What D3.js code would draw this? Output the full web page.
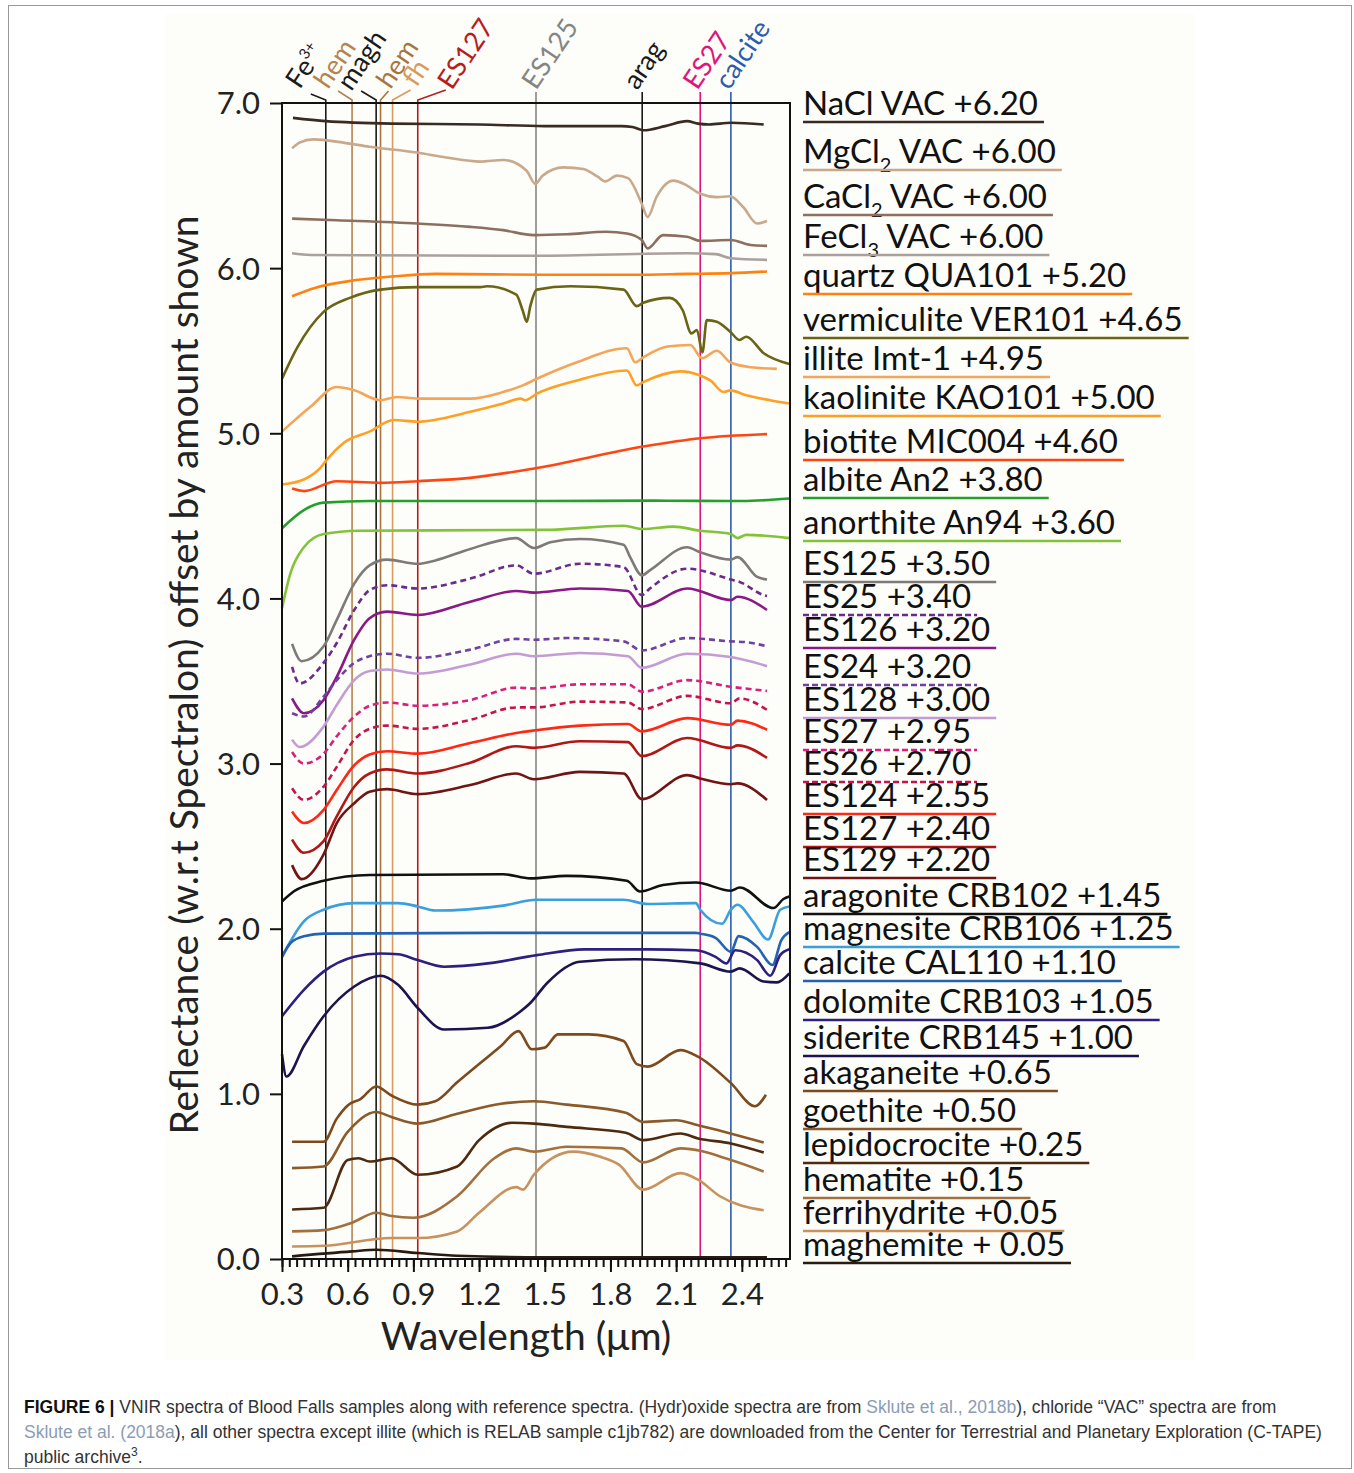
<!DOCTYPE html>
<meta charset="utf-8">
<script src="https://d3js.org/d3.v7.min.js"></script>
<style>
  body { margin: 0; background: #fff; }
</style>
<div id="my_dataviz"></div>
<script>

// ---- spectra: [wavelength (um), reflectance + offset] ----
var naclVAC = [[0.35,6.91],[0.5,6.89],[0.8,6.875],[1.2,6.87],[1.5,6.86],[1.85,6.86],[1.9,6.855],[1.95,6.835],[2.05,6.86],[2.15,6.89],[2.2,6.875],[2.25,6.87],[2.35,6.88],[2.5,6.87]];
var mgcl2VAC = [[0.346,6.725],[0.38,6.76],[0.443,6.78],[0.58,6.76],[0.7,6.735],[0.916,6.70],[1.05,6.67],[1.205,6.645],[1.31,6.655],[1.417,6.59],[1.457,6.51],[1.49,6.56],[1.585,6.61],[1.676,6.60],[1.74,6.555],[1.776,6.525],[1.83,6.56],[1.88,6.545],[1.943,6.39],[1.97,6.31],[2.01,6.43],[2.087,6.53],[2.15,6.50],[2.21,6.45],[2.286,6.43],[2.347,6.435],[2.406,6.37],[2.47,6.27],[2.515,6.285]];
var cacl2VAC = [[0.346,6.30],[0.55,6.29],[0.92,6.27],[1.16,6.25],[1.31,6.23],[1.45,6.20],[1.6,6.205],[1.78,6.22],[1.875,6.21],[1.943,6.17],[1.97,6.12],[2.04,6.20],[2.15,6.19],[2.21,6.165],[2.35,6.17],[2.44,6.14],[2.515,6.135]];
var fecl3VAC = [[0.346,6.09],[0.43,6.08],[1.0,6.077],[1.46,6.075],[2.15,6.09],[2.28,6.085],[2.35,6.06],[2.515,6.05]];
var quartz = [[0.346,5.83],[0.45,5.88],[0.6,5.92],[0.81,5.95],[1.0,5.965],[1.5,5.96],[1.9,5.96],[2.15,5.965],[2.35,5.97],[2.515,5.98]];
var vermiculite = [[0.30,5.33],[0.37,5.52],[0.49,5.735],[0.61,5.82],[0.75,5.87],[0.92,5.885],[1.205,5.885],[1.236,5.89],[1.37,5.84],[1.40,5.74],[1.418,5.675],[1.434,5.77],[1.464,5.87],[1.617,5.89],[1.86,5.87],[1.92,5.77],[1.95,5.79],[2.07,5.82],[2.13,5.745],[2.17,5.605],[2.195,5.625],[2.22,5.49],[2.24,5.685],[2.286,5.675],[2.347,5.615],[2.39,5.565],[2.42,5.585],[2.5,5.485],[2.617,5.42]];
var illite = [[0.30,5.01],[0.43,5.16],[0.55,5.28],[0.63,5.26],[0.75,5.20],[0.825,5.22],[0.92,5.21],[1.16,5.21],[1.31,5.25],[1.40,5.29],[1.464,5.33],[1.647,5.43],[1.875,5.515],[1.913,5.43],[1.95,5.46],[2.06,5.525],[2.165,5.535],[2.218,5.455],[2.286,5.50],[2.347,5.43],[2.44,5.40],[2.56,5.39]];
var kaolinite = [[0.30,4.69],[0.40,4.72],[0.475,4.79],[0.505,4.84],[0.58,4.94],[0.70,5.01],[0.81,5.08],[0.92,5.07],[1.16,5.13],[1.31,5.18],[1.39,5.21],[1.41,5.20],[1.464,5.24],[1.647,5.32],[1.875,5.38],[1.92,5.29],[1.95,5.31],[2.12,5.375],[2.21,5.35],[2.256,5.32],[2.317,5.25],[2.347,5.26],[2.42,5.23],[2.53,5.20],[2.617,5.18]];
var biotite = [[0.346,4.665],[0.40,4.65],[0.55,4.71],[0.75,4.70],[0.92,4.71],[1.16,4.73],[1.464,4.79],[1.95,4.92],[2.21,4.97],[2.515,4.995]];
var albite = [[0.30,4.425],[0.40,4.535],[0.49,4.58],[0.7,4.59],[1.5,4.59],[2.0,4.592],[2.4,4.59],[2.617,4.605]];
var anorthite = [[0.30,3.94],[0.338,4.15],[0.40,4.31],[0.49,4.39],[0.65,4.41],[1.5,4.415],[1.86,4.44],[1.95,4.42],[2.087,4.435],[2.21,4.41],[2.35,4.39],[2.38,4.365],[2.42,4.385],[2.617,4.365]];
var es125 = [[0.346,3.725],[0.39,3.62],[0.49,3.71],[0.55,3.87],[0.63,4.09],[0.70,4.20],[0.78,4.235],[0.92,4.21],[1.0,4.23],[1.16,4.30],[1.37,4.365],[1.45,4.305],[1.525,4.34],[1.66,4.36],[1.86,4.325],[1.89,4.25],[1.943,4.14],[1.98,4.17],[2.15,4.31],[2.21,4.28],[2.35,4.235],[2.38,4.25],[2.47,4.13],[2.515,4.115]];
var es25 = [[0.346,3.585],[0.38,3.485],[0.49,3.61],[0.55,3.73],[0.63,3.93],[0.70,4.05],[0.78,4.08],[0.92,4.06],[1.16,4.12],[1.37,4.20],[1.45,4.15],[1.66,4.21],[1.86,4.19],[1.943,4.02],[1.98,4.06],[2.15,4.18],[2.35,4.115],[2.39,4.10],[2.5,4.02],[2.515,4.015]];
var es126 = [[0.346,3.395],[0.40,3.305],[0.49,3.385],[0.55,3.525],[0.63,3.75],[0.70,3.88],[0.78,3.92],[0.92,3.90],[1.16,3.98],[1.37,4.045],[1.45,4.035],[1.66,4.06],[1.88,4.045],[1.943,3.95],[2.15,4.06],[2.35,3.99],[2.38,4.01],[2.515,3.93]];
var es24 = [[0.346,3.305],[0.40,3.285],[0.49,3.405],[0.55,3.505],[0.63,3.61],[0.70,3.65],[0.78,3.665],[0.92,3.64],[1.16,3.69],[1.37,3.755],[1.45,3.75],[1.6,3.76],[1.86,3.74],[1.943,3.685],[2.15,3.76],[2.35,3.74],[2.42,3.735],[2.515,3.71]];
var es128 = [[0.346,3.145],[0.38,3.10],[0.49,3.225],[0.55,3.355],[0.63,3.505],[0.70,3.56],[0.78,3.57],[0.92,3.545],[1.16,3.60],[1.37,3.665],[1.45,3.65],[1.66,3.67],[1.88,3.65],[1.943,3.58],[2.15,3.665],[2.35,3.645],[2.515,3.59]];
var es27 = [[0.346,3.07],[0.40,3.00],[0.49,3.06],[0.55,3.165],[0.63,3.285],[0.70,3.35],[0.78,3.37],[0.92,3.35],[1.16,3.385],[1.37,3.46],[1.45,3.455],[1.66,3.48],[1.88,3.48],[1.943,3.435],[2.15,3.505],[2.35,3.465],[2.515,3.44]];
var es26 = [[0.346,2.85],[0.40,2.78],[0.49,2.86],[0.55,2.98],[0.63,3.145],[0.70,3.21],[0.78,3.23],[0.92,3.21],[1.16,3.265],[1.37,3.34],[1.45,3.34],[1.66,3.375],[1.88,3.37],[1.943,3.33],[2.15,3.41],[2.35,3.365],[2.39,3.395],[2.515,3.325]];
var es124 = [[0.346,2.71],[0.40,2.64],[0.49,2.72],[0.55,2.84],[0.63,2.99],[0.70,3.055],[0.78,3.075],[0.92,3.06],[1.16,3.125],[1.37,3.185],[1.45,3.20],[1.66,3.23],[1.88,3.24],[1.943,3.195],[2.15,3.275],[2.35,3.235],[2.38,3.26],[2.515,3.205]];
var es127 = [[0.346,2.54],[0.40,2.46],[0.49,2.53],[0.55,2.68],[0.63,2.86],[0.70,2.94],[0.78,2.965],[0.92,2.94],[1.16,3.005],[1.37,3.105],[1.45,3.095],[1.66,3.135],[1.88,3.13],[1.943,3.045],[2.15,3.155],[2.35,3.095],[2.38,3.11],[2.515,3.035]];
var es129 = [[0.346,2.385],[0.39,2.30],[0.49,2.45],[0.55,2.64],[0.63,2.76],[0.70,2.83],[0.78,2.845],[0.92,2.815],[1.16,2.87],[1.37,2.94],[1.45,2.905],[1.66,2.95],[1.86,2.94],[1.943,2.785],[2.15,2.93],[2.21,2.91],[2.35,2.875],[2.38,2.88],[2.515,2.78]];
var aragonite = [[0.30,2.165],[0.353,2.225],[0.49,2.29],[0.7,2.325],[1.31,2.33],[1.434,2.305],[1.6,2.32],[1.875,2.29],[1.935,2.225],[2.04,2.265],[2.19,2.28],[2.35,2.23],[2.39,2.25],[2.545,2.125],[2.59,2.18],[2.617,2.195]];
var magnesite = [[0.30,1.83],[0.40,2.045],[0.49,2.115],[0.63,2.155],[0.83,2.155],[0.92,2.135],[1.0,2.11],[1.31,2.14],[1.464,2.175],[1.86,2.175],[1.97,2.15],[2.19,2.155],[2.21,2.115],[2.31,2.03],[2.35,2.115],[2.38,2.145],[2.45,2.045],[2.52,1.935],[2.575,2.115],[2.617,2.135]];
var calcite = [[0.30,1.83],[0.34,1.915],[0.40,1.955],[0.49,1.97],[1.5,1.975],[2.19,1.975],[2.21,1.97],[2.28,1.945],[2.35,1.86],[2.385,1.955],[2.47,1.89],[2.54,1.78],[2.58,1.93],[2.617,1.98]];
var dolomite = [[0.30,1.47],[0.40,1.63],[0.49,1.74],[0.63,1.83],[0.75,1.85],[0.83,1.845],[0.92,1.81],[1.04,1.77],[1.24,1.79],[1.464,1.84],[1.68,1.875],[1.97,1.875],[2.19,1.87],[2.28,1.83],[2.33,1.79],[2.37,1.87],[2.47,1.81],[2.53,1.715],[2.575,1.84],[2.617,1.875]];
var siderite = [[0.30,1.24],[0.32,1.105],[0.40,1.29],[0.49,1.47],[0.63,1.65],[0.75,1.715],[0.83,1.66],[0.92,1.52],[1.04,1.39],[1.24,1.40],[1.39,1.50],[1.434,1.55],[1.51,1.67],[1.66,1.80],[1.91,1.815],[2.21,1.79],[2.35,1.74],[2.39,1.76],[2.5,1.68],[2.56,1.675],[2.617,1.73]];
var akaganeite = [[0.346,0.71],[0.49,0.71],[0.55,0.85],[0.6,0.93],[0.66,0.97],[0.73,1.045],[0.8,0.99],[0.92,0.935],[1.0,0.955],[1.1,1.07],[1.3,1.29],[1.38,1.38],[1.44,1.27],[1.5,1.28],[1.56,1.36],[1.7,1.36],[1.86,1.32],[1.92,1.18],[1.97,1.165],[2.12,1.265],[2.2,1.225],[2.35,1.065],[2.46,0.925],[2.51,0.995]];
var goethite = [[0.346,0.55],[0.49,0.56],[0.6,0.77],[0.73,0.89],[0.8,0.86],[0.92,0.82],[1.1,0.88],[1.3,0.94],[1.45,0.955],[1.6,0.935],[1.87,0.885],[1.95,0.83],[2.1,0.84],[2.2,0.81],[2.5,0.705]];
var lepidocrocite = [[0.346,0.30],[0.49,0.31],[0.6,0.60],[0.65,0.61],[0.7,0.59],[0.8,0.61],[0.92,0.51],[1.1,0.56],[1.2,0.72],[1.35,0.825],[1.45,0.82],[1.6,0.80],[1.87,0.765],[1.95,0.72],[2.12,0.76],[2.2,0.73],[2.35,0.70],[2.5,0.645]];
var hematite = [[0.346,0.167],[0.49,0.175],[0.62,0.22],[0.73,0.28],[0.8,0.26],[0.9,0.25],[1.1,0.38],[1.27,0.61],[1.37,0.67],[1.45,0.65],[1.6,0.68],[1.85,0.67],[1.95,0.585],[2.12,0.67],[2.35,0.60],[2.5,0.53]];
var ferrihydrite = [[0.346,0.076],[0.49,0.08],[0.8,0.127],[0.92,0.127],[1.1,0.167],[1.2,0.28],[1.37,0.435],[1.40,0.42],[1.45,0.51],[1.63,0.65],[1.75,0.62],[1.84,0.57],[1.95,0.42],[2.12,0.52],[2.2,0.48],[2.3,0.38],[2.5,0.295]];
var maghemite = [[0.346,0.016],[0.62,0.046],[0.73,0.056],[0.92,0.036],[1.1,0.02],[1.5,0.01],[2.515,0.01]];

// order = legend order (top to bottom)
var spectra = [naclVAC, mgcl2VAC, cacl2VAC, fecl3VAC, quartz, vermiculite, illite, kaolinite, biotite, albite, anorthite,
  es125, es25, es126, es24, es128, es27, es26, es124, es127, es129,
  aragonite, magnesite, calcite, dolomite, siderite,
  akaganeite, goethite, lepidocrocite, hematite, ferrihydrite, maghemite];

var legendLabels = ["NaCl VAC +6.20", "MgCl_2 VAC +6.00", "CaCl_2 VAC +6.00", "FeCl_3 VAC +6.00", "quartz QUA101 +5.20",
  "vermiculite VER101 +4.65", "illite Imt-1 +4.95", "kaolinite KAO101 +5.00", "biotite MIC004 +4.60", "albite An2 +3.80",
  "anorthite An94 +3.60", "ES125 +3.50", "ES25 +3.40", "ES126 +3.20", "ES24 +3.20", "ES128 +3.00", "ES27 +2.95",
  "ES26 +2.70", "ES124 +2.55", "ES127 +2.40", "ES129 +2.20", "aragonite CRB102 +1.45", "magnesite CRB106 +1.25",
  "calcite CAL110 +1.10", "dolomite CRB103 +1.05", "siderite CRB145 +1.00", "akaganeite +0.65", "goethite +0.50",
  "lepidocrocite +0.25", "hematite +0.15", "ferrihydrite +0.05", "maghemite + 0.05"];

// vertical band markers
var bandWl = [0.50, 0.62, 0.73, 0.75, 0.805, 0.92, 1.46, 1.945, 2.21, 2.35];
var bandLabels = ["Fe|3+", "hem", "magh", "hem", "fh", "ES127", "ES125", "arag", "ES27", "calcite"];

var xTicks = [0.3, 0.6, 0.9, 1.2, 1.5, 1.8, 2.1, 2.4];
var yTicks = [0, 1, 2, 3, 4, 5, 6, 7];

// ---- styles ----
var lineColors = ["#3a2a22", "#c8a98b", "#8b7060", "#aaa09c", "#ff8210", "#6b6416", "#f4a55a", "#ffa024", "#ff4612", "#22a02a",
  "#84c23a", "#7e7a78", "#6a2c8c", "#8a1886", "#7042a0", "#c49cd4", "#d8207c", "#c4144e", "#ff2814", "#b01818", "#701414",
  "#111111", "#3a9fdc", "#2462b2", "#2c2080", "#1c1450", "#7c4a1c", "#8a5a2a", "#4e2a10", "#a2703e", "#c8925e", "#2a1a10"];
var dashedSet = {12: true, 14: true, 16: true, 17: true};
var legendRowY = [122, 170, 215, 255, 294, 338, 377, 416, 460, 498, 541, 582, 615, 648, 685, 718, 750, 782, 814, 847, 878,
  914, 947, 981, 1020, 1056, 1091, 1129, 1163, 1198, 1231, 1263];
var bandColors = ["#1a1a1a", "#b5834f", "#1a1a1a", "#a8743f", "#d89a5e", "#b81c1c", "#858585", "#1a1a1a", "#e0147c", "#2a5cb0"];
// leader end (dx,dy) and label start offsets from the top of each band line
var bandLeader = [[-15,-9], [-14,-12], [-15,-12], [8,-12], [18,-13], [28,-13], [0,-11], [0,-11], [0,-11], [0,-11]];
var bandText = [[-26,-13], [-24,-13], [-25,-11], [10,-13], [24,-15], [34,-12], [0,-12], [-5,-12], [-3,-12], [-2,-12]];

var FONT = "Lato, 'Open Sans', sans-serif";
var W = 1354, H = 1473;

var svg = d3.select("#my_dataviz")
  .append("svg")
    .attr("width", W)
    .attr("height", H);

// page frame and figure background
svg.append("rect").attr("x", 8.5).attr("y", 5.5).attr("width", 1343).attr("height", 1463)
  .attr("fill", "#fff").attr("stroke", "#999").attr("stroke-width", 1);
svg.append("rect").attr("x", 165).attr("y", 14).attr("width", 1030).attr("height", 1346)
  .attr("fill", "#fdfdf9");

var x = d3.scaleLinear().domain([0.3, 2.62]).range([282, 790]);
var y = d3.scaleLinear().domain([0, 7]).range([1259, 103]);

// band marker lines (behind spectra)
var yTop = y(7), yBot = y(0);
var bands = svg.append("g");
bandWl.forEach(function(w, i) {
  var bx = x(w);
  bands.append("line")
    .attr("x1", bx).attr("x2", bx).attr("y1", yTop).attr("y2", yBot)
    .attr("stroke", bandColors[i]).attr("stroke-width", 1.6);
  var lx = bx + bandLeader[i][0], ly = yTop + bandLeader[i][1];
  bands.append("polyline")
    .attr("points", [[bx, yTop], [bx, yTop - 3], [lx, ly]].map(function(p) { return p.join(","); }).join(" "))
    .attr("fill", "none").attr("stroke", bandColors[i]).attr("stroke-width", 1.6);
  var tx = bx + bandText[i][0], ty = yTop + bandText[i][1];
  var t = bands.append("text")
    .attr("transform", "translate(" + tx + "," + ty + ") rotate(-56)")
    .attr("fill", bandColors[i])
    .style("font-family", FONT)
    .style("font-size", "27px");
  var parts = bandLabels[i].split("|");
  t.append("tspan").text(parts[0]);
  if (parts[1]) t.append("tspan").attr("dy", -11).style("font-size", "15px").text(parts[1]);
});

// spectra
var line = d3.line()
  .x(function(d) { return x(d[0]); })
  .y(function(d) { return y(d[1]); })
  .curve(d3.curveMonotoneX);

svg.append("g")
  .selectAll("path")
  .data(spectra)
  .enter()
  .append("path")
    .attr("d", line)
    .attr("fill", "none")
    .attr("stroke", function(d, i) { return lineColors[i]; })
    .attr("stroke-width", 2.6)
    .attr("stroke-linejoin", "round")
    .attr("stroke-dasharray", function(d, i) { return dashedSet[i] ? "6,4" : null; });

// frame
svg.append("rect")
  .attr("x", x(0.3)).attr("y", yTop)
  .attr("width", x(2.62) - x(0.3)).attr("height", yBot - yTop)
  .attr("fill", "none").attr("stroke", "#111").attr("stroke-width", 2);

// axes
var xAxis = svg.append("g")
  .attr("transform", "translate(0," + yBot + ")")
  .call(d3.axisBottom(x).tickValues(xTicks).tickSize(13).tickFormat(d3.format(".1f")));
var xMinor = svg.append("g")
  .attr("transform", "translate(0," + yBot + ")")
  .call(d3.axisBottom(x).tickValues(d3.range(0.3, 2.62, 0.1 / 3)).tickSize(8).tickFormat(""));
var yAxis = svg.append("g")
  .attr("transform", "translate(" + x(0.3) + ",0)")
  .call(d3.axisLeft(y).tickValues(yTicks).tickSize(12).tickFormat(d3.format(".1f")));

[xAxis, xMinor, yAxis].forEach(function(g) {
  g.select(".domain").remove();
  g.selectAll(".tick line").attr("stroke", "#111").attr("stroke-width", 2);
  g.selectAll("text").style("font-family", FONT).style("font-size", "31px").attr("fill", "#222");
});
xAxis.selectAll("text").attr("dy", "0.98em");
yAxis.selectAll("text").attr("x", -22).attr("dy", "0.35em");

// axis titles
svg.append("text")
  .attr("transform", "translate(198," + ((yTop + yBot) / 2 - 6) + ") rotate(-90)")
  .attr("text-anchor", "middle")
  .style("font-family", FONT)
  .style("font-size", "39px").attr("fill", "#222")
  .text("Reflectance (w.r.t Spectralon) offset by amount shown");

svg.append("text")
  .attr("x", 526).attr("y", 1350)
  .attr("text-anchor", "middle")
  .style("font-family", FONT)
  .style("font-size", "39px").attr("fill", "#222")
  .text("Wavelength (\u03bcm)");

// legend: labels underlined in each spectrum's colour
var legend = svg.append("g");
legendLabels.forEach(function(lab, i) {
  var ly = legendRowY[i];
  var t = legend.append("text").attr("x", 803).attr("y", ly - 7)
    .style("font-family", FONT)
    .style("font-size", "33px").attr("fill", "#111");
  var m = lab.match(/^(.*?)_(\d)(.*)$/);
  if (m) {
    t.append("tspan").text(m[1]);
    t.append("tspan").attr("dy", 9).style("font-size", "20px").text(m[2]);
    t.append("tspan").attr("dy", -9).text(m[3]);
  } else {
    t.text(lab);
  }
  var len = t.node().getComputedTextLength();
  legend.append("line")
    .attr("x1", 803).attr("x2", 803 + len + 6)
    .attr("y1", ly).attr("y2", ly)
    .attr("stroke", lineColors[i]).attr("stroke-width", 2.6)
    .attr("stroke-dasharray", dashedSet[i] ? "6,3" : null);
});

// caption
var CAP = "'Liberation Sans', Arial, sans-serif";
function capLine(yy) {
  return svg.append("text").attr("x", 24).attr("y", yy).attr("fill", "#333")
    .style("font-family", CAP).style("font-size", "17.5px");
}
var c1 = capLine(1413);
c1.append("tspan").style("font-weight", "bold").attr("fill", "#111").text("FIGURE 6 | ");
c1.append("tspan").text("VNIR spectra of Blood Falls samples along with reference spectra. (Hydr)oxide spectra are from ");
c1.append("tspan").attr("fill", "#8a9db5").text("Sklute et al., 2018b");
c1.append("tspan").text("), chloride \u201cVAC\u201d spectra are from");
var c2 = capLine(1438);
c2.append("tspan").attr("fill", "#8a9db5").text("Sklute et al. (2018a");
c2.append("tspan").text("), all other spectra except illite (which is RELAB sample c1jb782) are downloaded from the Center for Terrestrial and Planetary Exploration (C-TAPE)");
var c3 = capLine(1463);
c3.append("tspan").text("public archive");
c3.append("tspan").attr("dy", -7).style("font-size", "12px").text("3");
c3.append("tspan").attr("dy", 7).text(".");

</script>
